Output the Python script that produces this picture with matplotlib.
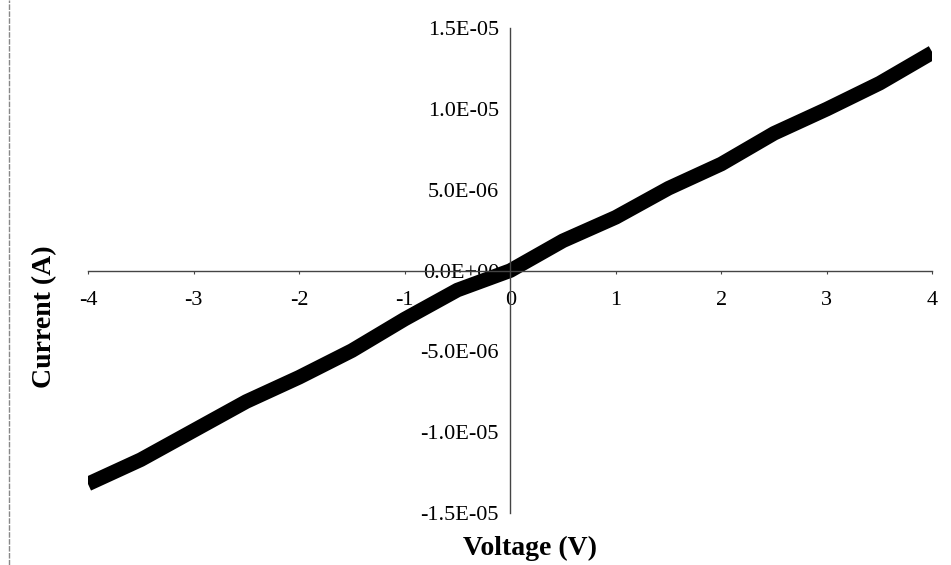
import matplotlib.pyplot as plt
from matplotlib.lines import Line2D

# I-V sweep
voltage = [-4.0, -3.5, -3.0, -2.5, -2.0, -1.5, -1.0, -0.5, 0.0, 0.5, 1.0, 1.5, 2.0, 2.5, 3.0, 3.5, 4.0]
current = [-13.2e-6, -11.7e-6, -9.9e-6, -8.1e-6, -6.6e-6, -4.95e-6, -3.0e-6, -1.2e-6, 0.0,
           1.85e-6, 3.3e-6, 5.1e-6, 6.6e-6, 8.5e-6, 10.0e-6, 11.6e-6, 13.5e-6]

x_ticks = [-4, -3, -2, -1, 0, 1, 2, 3, 4]
y_ticks = [-1.5e-5, -1.0e-5, -5.0e-6, 0.0, 5.0e-6, 1.0e-5, 1.5e-5]
y_labels = ['-1.5E-05', '-1.0E-05', '-5.0E-06', '0.0E+00', '5.0E-06', '1.0E-05', '1.5E-05']

plt.rcParams['font.family'] = ['Liberation Serif', 'DejaVu Serif']

fig = plt.figure(figsize=(9.51, 5.65), dpi=100)
ax = fig.add_axes([0.0925, 0.092, 0.888, 0.858])

ax.plot(voltage, current, color='black', lw=10.5, solid_capstyle='butt', solid_joinstyle='round')

ax.set_xlim(-4, 4)
ax.set_ylim(-1.5e-5, 1.5e-5)
ax.spines['left'].set_position(('data', 0))
ax.spines['bottom'].set_position(('data', 0))
ax.spines['right'].set_visible(False)
ax.spines['top'].set_visible(False)
for s in ['left', 'bottom']:
    ax.spines[s].set_color('#444444')
    ax.spines[s].set_linewidth(1.0)

ax.set_xticks(x_ticks)
ax.set_xticklabels([str(t) for t in x_ticks])
ax.set_yticks(y_ticks)
ax.set_yticklabels(y_labels)
ax.tick_params(axis='x', length=2, direction='out', pad=13, labelsize=16, color='#444444')
ax.tick_params(axis='y', length=0, pad=8, labelsize=16)

fig.text(0.557, 0.03, 'Voltage (V)', fontsize=20, fontweight='bold', ha='center', va='center')
fig.text(0.047, 0.44, 'Current (A)', fontsize=20, fontweight='bold', ha='center', va='center',
         rotation=90)

# scanned frame edge on the left
fig.add_artist(Line2D([0.009, 0.009], [0.0, 1.0], transform=fig.transFigure,
                      color='#888888', lw=1, ls=(0, (4, 1))))

fig.savefig('out.png', dpi=100)
